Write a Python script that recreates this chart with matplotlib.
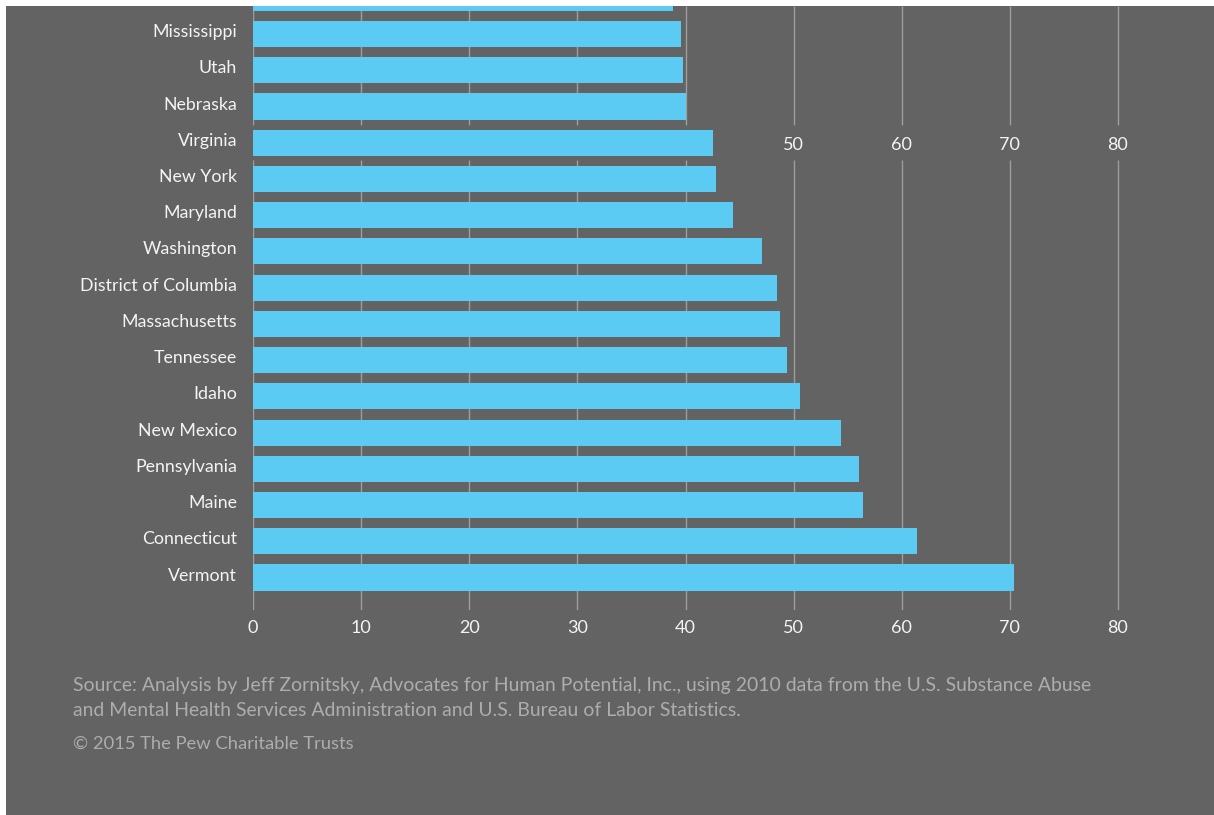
import matplotlib
matplotlib.use("Agg")
import matplotlib.pyplot as plt
from matplotlib.patches import Rectangle
from matplotlib.transforms import ScaledTranslation

states = ["Vermont", "Connecticut", "Maine", "Pennsylvania", "New Mexico", "Idaho",
          "Tennessee", "Massachusetts", "District of Columbia", "Washington", "Maryland",
          "New York", "Virginia", "Nebraska", "Utah", "Mississippi", ""]
values = [70.4, 61.4, 56.4, 56.0, 54.4, 50.6, 49.4, 48.7, 48.5, 47.1, 44.4,
          42.8, 42.5, 40.05, 39.8, 39.6, 38.85]
xticks = [0, 10, 20, 30, 40, 50, 60, 70, 80]
mid_ticks = [50, 60, 70, 80]
source_lines = ["Source: Analysis by Jeff Zornitsky, Advocates for Human Potential, Inc., using 2010 data from the U.S. Substance Abuse",
                "and Mental Health Services Administration and U.S. Bureau of Labor Statistics."]
copyright_text = "\u00a9 2015 The Pew Charitable Trusts"

BG = "#626362"
BAR = "#5ccbf4"
GRID = "#9c9d9c"
TXT = "#f4f4f4"
SRC = "#acadac"
FONT = "Lato"

W, H = 1214, 815
fig = plt.figure(figsize=(W / 100, H / 100), dpi=100)
fig.patch.set_facecolor("white")
fig.add_artist(Rectangle((6 / W, 0), 1 - 6 / W, 1 - 6 / H, transform=fig.transFigure,
                         facecolor=BG, edgecolor="none", zorder=0))

# axes placement in pixels
ax_left, ax_right = 253, 253 + 84 * 10.8125
row_step = 36.23
vermont_px = 577.5
ax_bottom_px, ax_top_px = 610, 6
ylo = -(ax_bottom_px - vermont_px) / row_step
yhi = (vermont_px - ax_top_px) / row_step
ax = fig.add_axes([ax_left / W, 1 - ax_bottom_px / H, (ax_right - ax_left) / W,
                   (ax_bottom_px - ax_top_px) / H])
ax.set_facecolor("none")

ypos = list(range(len(states)))
ax.barh(ypos, values, height=0.72, color=BAR, edgecolor="none", zorder=3)

# gridlines with the gap around the Virginia row (where the repeated tick labels sit)
vi = states.index("Virginia")
gap = 0.48
for t in xticks:
    ax.vlines(t, ylo, vi - gap, color=GRID, lw=1.0, zorder=1)
    ax.vlines(t, vi + gap, yhi, color=GRID, lw=1.0, zorder=1)
for t in mid_ticks:
    ax.text(t, vi - 0.07, str(t), ha="center", va="center", color=TXT, fontsize=13,
            family=FONT, zorder=2)

ax.set_yticks(ypos)
ax.set_yticklabels(states, fontsize=12.8, color=TXT, family=FONT)
ax.set_xticks(xticks)
ax.set_xticklabels([str(t) for t in xticks], fontsize=13, color=TXT, family=FONT)
ax.tick_params(axis="y", length=0, pad=11.5)
ax.tick_params(axis="x", length=0, pad=7)
up = ScaledTranslation(0, 2.5 / 72, fig.dpi_scale_trans)
for lab in ax.get_yticklabels():
    lab.set_transform(lab.get_transform() + up)
for s in ax.spines.values():
    s.set_visible(False)

ax.set_xlim(0, 84)
ax.set_ylim(ylo, yhi)

fig.text(73 / W, 1 - 685 / H, source_lines[0], ha="left", va="center", color=SRC,
         fontsize=13.95, family=FONT)
fig.text(73 / W, 1 - 710 / H, source_lines[1], ha="left", va="center", color=SRC,
         fontsize=13.95, family=FONT)
fig.text(73 / W, 1 - 744 / H, copyright_text, ha="left", va="center", color=SRC,
         fontsize=13.2, family=FONT)

fig.savefig("out.png", dpi=100, facecolor=fig.get_facecolor())
